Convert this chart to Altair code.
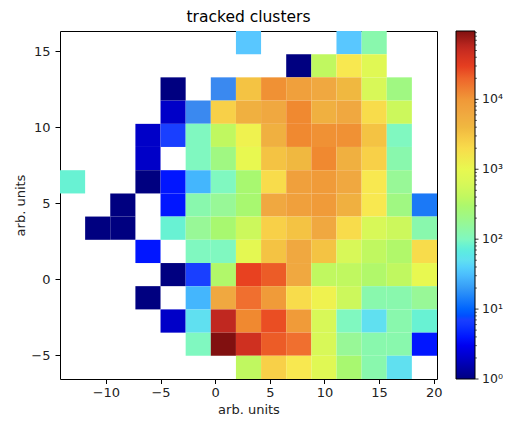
import altair as alt
import pandas as pd

# bin edges (x left->right, y top->bottom)
x_edges = [-14.2, -11.9, -9.6, -7.3, -5.0, -2.7, -0.4, 1.9, 4.2, 6.5, 8.8, 11.1, 13.4, 15.7, 18.0, 20.3]
y_edges = [16.34, 14.81, 13.29, 11.76, 10.23, 8.71, 7.18, 5.65, 4.13, 2.60, 1.07, -0.45, -1.98, -3.51, -5.03, -6.56]

# counts per row, top row first (0 = empty bin)
row_00 = [0, 0, 0, 0, 0, 0, 0, 35, 0, 0, 0, 35, 125, 0, 0]
row_01 = [0, 0, 0, 0, 0, 0, 0, 0, 0, 1, 400, 1600, 800, 0, 0]
row_02 = [0, 0, 0, 0, 1, 0, 16, 3200, 11000, 8000, 6300, 4000, 630, 220, 0]
row_03 = [0, 0, 0, 0, 2, 16, 2500, 5000, 6300, 12500, 5000, 6300, 2000, 500, 0]
row_04 = [0, 0, 0, 2, 7, 100, 400, 1200, 5000, 12500, 11000, 11000, 3200, 100, 0]
row_05 = [0, 0, 0, 2, 0, 100, 220, 1000, 3200, 4000, 12500, 5000, 2500, 125, 0]
row_06 = [80, 0, 0, 1, 4, 28, 100, 280, 2000, 8000, 9300, 6300, 1600, 160, 0]
row_07 = [0, 0, 1, 0, 4, 125, 160, 280, 6300, 8000, 9300, 5000, 1600, 220, 13]
row_08 = [0, 1, 1, 0, 80, 160, 280, 500, 2500, 3200, 6300, 2000, 630, 500, 125]
row_09 = [0, 0, 0, 4, 0, 100, 100, 900, 3200, 6300, 3200, 630, 400, 320, 2000]
row_10 = [0, 0, 0, 0, 1, 7, 320, 28000, 22000, 6300, 400, 400, 320, 400, 1000]
row_11 = [0, 0, 0, 1, 0, 28, 6300, 18000, 9300, 2000, 1200, 500, 125, 125, 160]
row_12 = [0, 0, 0, 0, 2, 50, 56000, 12500, 25000, 9300, 630, 100, 50, 125, 80]
row_13 = [0, 0, 0, 0, 0, 100, 95000, 45000, 22000, 18000, 630, 160, 125, 125, 4]
row_14 = [0, 0, 0, 0, 0, 0, 0, 400, 2500, 1600, 800, 280, 125, 50, 0]
rows = [row_00, row_01, row_02, row_03, row_04, row_05, row_06, row_07,
        row_08, row_09, row_10, row_11, row_12, row_13, row_14]

x_ticks = [-10, -5, 0, 5, 10, 15, 20]
y_ticks = [-5, 0, 5, 10, 15]
cbar_ticks = [1, 10, 100, 1000, 10000]
cbar_labels = ["10⁰", "10¹", "10²", "10³", "10⁴"]
minor_mult = [2, 3, 4, 5, 6, 7, 8, 9]

vmin, vmax = 1, 95000

# colour map (jet-like, as seen in the reference), stops in log10 units
cmap_logs = [0.0, 0.3, 0.55, 0.85, 1.2, 1.55, 1.7, 2.0, 2.2, 2.45, 2.6, 2.8, 3.0,
             3.2, 3.4, 3.6, 3.8, 4.0, 4.1, 4.25, 4.45, 4.65, 4.75, 4.98]
cmap_cols = ["#000080", "#0000c8", "#0000ff", "#1a40ff", "#3a88f0", "#5ac8ff", "#60e0f0",
             "#80f8c0", "#98f898", "#a8f870", "#c0f860", "#d8f858", "#e8f850",
             "#f8e850", "#f8d048", "#f0b840", "#f0a840", "#f09838", "#f08830",
             "#f07030", "#e84020", "#d03020", "#c02820", "#801010"]
c_domain = [10 ** v for v in cmap_logs]

records = []
for r, row in enumerate(rows):
    for c, v in enumerate(row):
        if v > 0:
            records.append({"x0": x_edges[c], "x1": x_edges[c + 1],
                            "y0": y_edges[r + 1], "y1": y_edges[r], "count": v})
df = pd.DataFrame(records)

major_df = pd.DataFrame({"v": cbar_ticks, "lab": cbar_labels})
minor_df = pd.DataFrame({"v": [t * m for t in cbar_ticks for m in minor_mult if t * m < vmax]})

FONT = "DejaVu Sans"
W, H = 377, 348
CB_X, CB_W = 396, 19
CB_R = CB_X + CB_W

heat = alt.Chart(df).mark_rect(strokeWidth=0).encode(
    x=alt.X("x0:Q", scale=alt.Scale(domain=[x_edges[0], x_edges[-1]], nice=False, zero=False),
            axis=alt.Axis(values=x_ticks, title="arb. units", grid=False, domain=False,
                          tickSize=4.5, tickColor="black", labelPadding=3,
                          labelFont=FONT, labelFontSize=13, labelColor="#222",
                          titleFont=FONT, titleFontSize=13, titleFontWeight="normal",
                          titleColor="#222", titleBaseline="alphabetic", titleY=34)),
    x2="x1:Q",
    y=alt.Y("y0:Q", scale=alt.Scale(domain=[y_edges[-1], y_edges[0]], nice=False, zero=False),
            axis=alt.Axis(values=y_ticks, title="arb. units", grid=False, domain=False,
                          tickSize=5, tickColor="black", labelPadding=5,
                          labelFont=FONT, labelFontSize=13, labelColor="#222",
                          titleFont=FONT, titleFontSize=13, titleFontWeight="normal",
                          titleColor="#222", titleBaseline="alphabetic", titleX=-36)),
    y2="y1:Q",
    color=alt.Color("count:Q",
                    scale=alt.Scale(type="log", domain=c_domain, range=cmap_cols),
                    legend=alt.Legend(title=None, orient="none", legendX=CB_X, legendY=0,
                                      direction="vertical", gradientLength=H,
                                      gradientThickness=CB_W, gradientStrokeColor="black",
                                      gradientStrokeWidth=1, labelExpr="''",
                                      labelOpacity=0, padding=0)),
)

cb_scale = alt.Scale(type="log", domain=[vmin, vmax], nice=False, zero=False)

cb_major = alt.Chart(major_df).mark_rule(color="black", strokeWidth=0.8).encode(
    y=alt.Y("v:Q", scale=cb_scale, axis=None),
    x=alt.value(CB_R), x2=alt.value(CB_R + 3.5),
)
cb_minor = alt.Chart(minor_df).mark_rule(color="black", strokeWidth=0.6).encode(
    y=alt.Y("v:Q", scale=cb_scale, axis=None),
    x=alt.value(CB_R), x2=alt.value(CB_R + 2),
)
cb_labels = alt.Chart(major_df).mark_text(
    align="left", baseline="middle", font=FONT, fontSize=12.5, color="#222"
).encode(
    y=alt.Y("v:Q", scale=cb_scale, axis=None),
    x=alt.value(CB_R + 7),
    text="lab:N",
)

chart = alt.layer(heat, cb_major, cb_minor, cb_labels).resolve_scale(
    y="independent"
).properties(
    width=W, height=H,
    title=alt.TitleParams("tracked clusters", font=FONT, fontSize=15.5, fontWeight="normal",
                          color="black", baseline="alphabetic", offset=6.5, dy=13),
    autosize=alt.AutoSizeParams(type="none"),
    padding={"left": 52, "top": 23, "right": 66, "bottom": 37},
).configure_view(stroke="black", strokeWidth=1)

chart.save("out.html", embed_options={"renderer": "svg", "actions": False})
